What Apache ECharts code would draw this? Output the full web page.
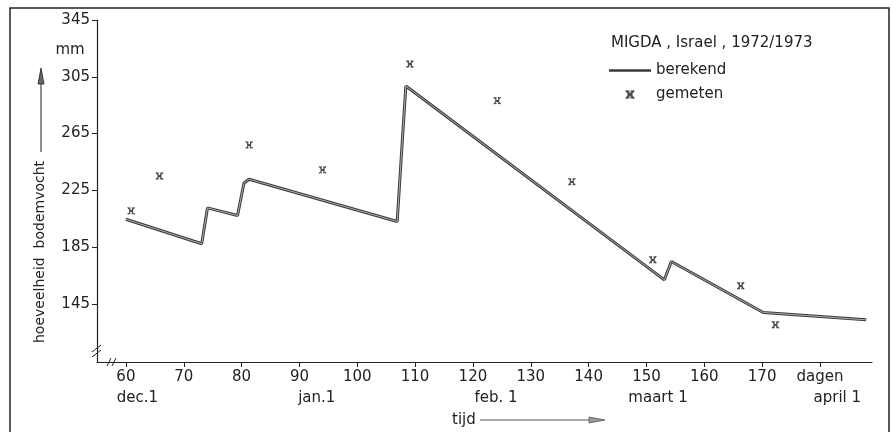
<!DOCTYPE html>
<html>
<head>
<meta charset="utf-8">
<script src="https://fastly.jsdelivr.net/npm/echarts@6/dist/echarts.min.js"></script>
<style>
  html, body { margin: 0; padding: 0; background: #fff; }
  #root { width: 896px; height: 432px; }
</style>
</head>
<body>
<div id="root"></div>
<script>
// berekend (calculated) line, day number vs soil moisture in mm
const calcDays = [60, 73.1, 74.1, 79.3, 80.4, 81.3, 106.9, 108.4, 153.1, 154.3, 170.2, 188]
const calcValues = [204.6, 187.3, 212.6, 207.2, 230, 232.8, 203, 298.5, 161.9, 174.8, 138.9, 133.7]

// gemeten (measured) points
const measDays = [60.9, 65.8, 81.3, 94.0, 109.1, 124.2, 137.1, 151.1, 166.3, 172.3]
const measValues = [210.5, 235.1, 257, 239.4, 314, 288.2, 231.1, 176, 157.7, 130.2]

// axis ticks
const yTicks = [145, 185, 225, 265, 305, 345]
const xTicks = [60, 70, 80, 90, 100, 110, 120, 130, 140, 150, 160, 170, 180]
const monthDays = [62, 93, 124, 152, 183]
const monthNames = ['dec.1', 'jan.1', 'feb. 1', 'maart 1', 'april 1']

const FONT = 'DejaVu Sans'
const FS = 15
const INK = '#222'

var calcData = calcDays.map((d, i) => [d, calcValues[i]])
var measData = measDays.map((d, i) => [d, measValues[i]])

var myChart = echarts.init(document.getElementById('root'))

const option = {
  animation: false,
  backgroundColor: '#fff',
  textStyle: { fontFamily: FONT, color: INK },
  title: {
    text: 'MIGDA , Israel , 1972/1973',
    left: 606,
    top: 31,
    textStyle: { fontFamily: FONT, fontSize: FS, fontWeight: 'normal', color: INK }
  },
  legend: {
    orient: 'vertical',
    left: 604,
    top: 58,
    itemWidth: 42,
    itemHeight: 8,
    itemGap: 9,
    data: [
      { name: 'berekend', icon: 'path://M0,0L40,0L40,2.2L0,2.2Z', itemStyle: { color: '#3a3a3a' } },
      { name: 'gemeten' }
    ],
    textStyle: { fontFamily: FONT, fontSize: FS, color: INK }
  },
  grid: { left: 97, right: 24, top: 20, bottom: 70 },
  xAxis: [
    {
      type: 'value',
      min: 55,
      max: 189,
      axisLine: { lineStyle: { color: INK, width: 1.2 } },
      axisTick: { customValues: xTicks, length: 5, lineStyle: { color: INK } },
      axisLabel: {
        customValues: xTicks,
        formatter: v => v === 180 ? 'dagen' : String(v),
        fontFamily: FONT, fontSize: FS, color: INK, margin: 8
      },
      splitLine: { show: false }
    },
    {
      type: 'value',
      position: 'bottom',
      offset: 21,
      min: 55,
      max: 189,
      axisLine: { show: false },
      axisTick: { show: false },
      axisLabel: {
        customValues: monthDays,
        formatter: v => monthNames[monthDays.indexOf(v)],
        fontFamily: FONT, fontSize: FS, color: INK, margin: 8
      },
      splitLine: { show: false }
    }
  ],
  yAxis: {
    type: 'value',
    min: 104,
    max: 345,
    axisLine: { show: true, lineStyle: { color: INK, width: 1.2 } },
    axisTick: { show: true, customValues: yTicks, length: 5, lineStyle: { color: INK } },
    axisLabel: { customValues: yTicks, fontFamily: FONT, fontSize: FS, color: INK, margin: 7 },
    splitLine: { show: false }
  },
  series: [
    {
      name: 'berekend',
      type: 'line',
      data: calcData,
      symbol: 'none',
      lineStyle: { color: '#3a3a3a', width: 3 },
      itemStyle: { color: '#3a3a3a' },
      z: 2
    },
    {
      // light core to get the hollow pen look
      name: 'berekend-core',
      type: 'line',
      data: calcData,
      symbol: 'none',
      silent: true,
      lineStyle: { color: '#b0b0b0', width: 1 },
      z: 3
    },
    {
      name: 'gemeten',
      type: 'scatter',
      data: measData,
      symbol: 'path://M0,0L10,10M10,0L0,10M3,0L3,10M7,0L7,10',
      symbolSize: 7,
      itemStyle: { color: 'none', borderColor: INK, borderWidth: 1.3 },
      z: 4
    }
  ],
  graphic: [
    // frame around the figure
    { type: 'rect', shape: { x: 10, y: 8, width: 879, height: 440 }, style: { fill: 'none', stroke: INK, lineWidth: 1.5 }, silent: true },
    { type: 'text', x: 70, y: 50, style: { text: 'mm', font: '15px "DejaVu Sans"', fill: INK, align: 'center', verticalAlign: 'middle' } },
    // y axis title with arrow
    { type: 'text', x: 40, y: 252, rotation: Math.PI / 2, style: { text: 'hoeveelheid  bodemvocht', font: '14px "DejaVu Sans"', fill: INK, align: 'center', verticalAlign: 'middle' } },
    { type: 'line', shape: { x1: 41, y1: 152, x2: 41, y2: 80 }, style: { stroke: INK, lineWidth: 1 } },
    { type: 'polygon', shape: { points: [[41, 68], [38, 84], [44, 84]] }, style: { fill: '#666', stroke: INK, lineWidth: 0.8 } },
    // x axis title with arrow
    { type: 'text', x: 452, y: 420, style: { text: 'tijd', font: '15px "DejaVu Sans"', fill: INK, verticalAlign: 'middle' } },
    { type: 'line', shape: { x1: 480, y1: 420, x2: 592, y2: 420 }, style: { stroke: '#555', lineWidth: 1 } },
    { type: 'polygon', shape: { points: [[605, 420], [589, 417], [589, 423]] }, style: { fill: '#999', stroke: '#555', lineWidth: 0.8 } },
    // axis break marks
    { type: 'line', shape: { x1: 92, y1: 352, x2: 101, y2: 345 }, style: { stroke: INK, lineWidth: 1 } },
    { type: 'line', shape: { x1: 92, y1: 357, x2: 101, y2: 350 }, style: { stroke: '#fff', lineWidth: 3 } },
    { type: 'line', shape: { x1: 92, y1: 357, x2: 101, y2: 350 }, style: { stroke: INK, lineWidth: 1 } },
    { type: 'line', shape: { x1: 107, y1: 366, x2: 111, y2: 358 }, style: { stroke: INK, lineWidth: 1 } },
    { type: 'line', shape: { x1: 112, y1: 366, x2: 116, y2: 358 }, style: { stroke: INK, lineWidth: 1 } }
  ]
}

myChart.setOption(option)
</script>
</body>
</html>
